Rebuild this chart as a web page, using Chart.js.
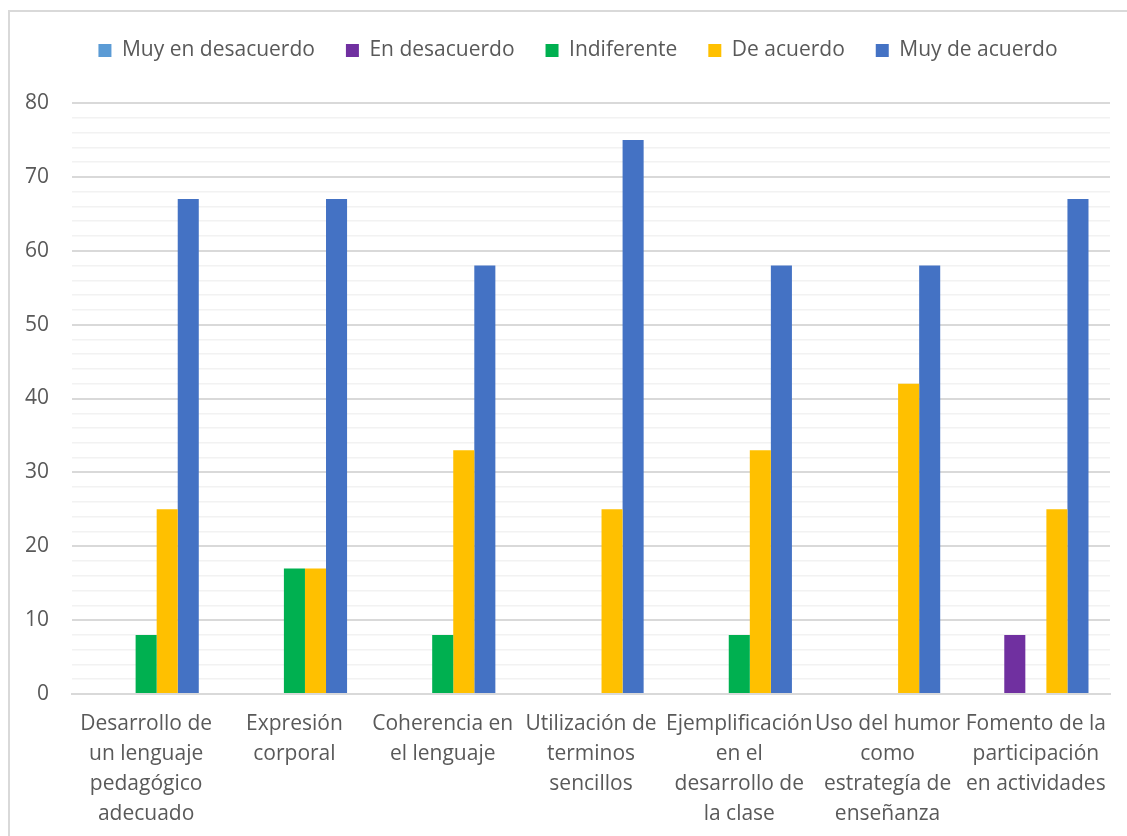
<!DOCTYPE html>
<html>
<head>
<meta charset="utf-8">
<script src="https://cdn.jsdelivr.net/npm/chart.js@4.4.1/dist/chart.umd.min.js"></script>
<style>
  html, body { margin: 0; padding: 0; background: #fff; overflow: hidden; }
  #box {
    position: absolute; left: 8px; top: 10px;
    width: 1140px; height: 852px;
    border: 2px solid #d9d9d9; background: #fff;
  }
</style>
</head>
<body>
<div id="box"><canvas id="myChart" width="1130" height="832"></canvas></div>
<script>
'use strict';
let categories = [
  ['Desarrollo de', 'un lenguaje', 'pedagógico', 'adecuado'],
  ['Expresión', 'corporal'],
  ['Coherencia en', 'el lenguaje'],
  ['Utilización de', 'terminos', 'sencillos'],
  ['Ejemplificación', 'en el', 'desarrollo de', 'la clase'],
  ['Uso del humor', 'como', 'estrategía de', 'enseñanza'],
  ['Fomento de la', 'participación', 'en actividades'],
];

let muyEnDesacuerdo = [0, 0, 0, 0, 0, 0, 0];
let enDesacuerdo = [0, 0, 0, 0, 0, 0, 8];
let indiferente = [8, 17, 8, 0, 8, 0, 0];
let deAcuerdo = [25, 17, 33, 25, 33, 42, 25];
let muyDeAcuerdo = [67, 67, 58, 75, 58, 58, 67];

let yTicks = [0, 10, 20, 30, 40, 50, 60, 70, 80];

const textColor = '#595959';
const fontFamily = '"Open Sans", "Noto Sans", sans-serif';

function serie(label, data, color) {
  return {
    label: label,
    data: data,
    backgroundColor: color,
    borderWidth: 0,
    barPercentage: 1,
    categoryPercentage: 0.71,
  };
}

// move the legend row up into the top margin, slightly right of center
const legendShift = {
  id: 'legendShift',
  afterLayout(chart) {
    let lg = chart.legend;
    if (lg) {
      lg.left += 12;
      lg.right += 12;
      lg.top -= 32;
      lg.bottom -= 32;
    }
  }
};

var ctx = document.getElementById('myChart').getContext('2d');
var myChart = new Chart(ctx, {
  type: 'bar',
  data: {
    labels: categories,
    datasets: [
      serie('Muy en desacuerdo', muyEnDesacuerdo, '#5b9bd5'),
      serie('En desacuerdo', enDesacuerdo, '#7030a0'),
      serie('Indiferente', indiferente, '#00b050'),
      serie('De acuerdo', deAcuerdo, '#ffc000'),
      serie('Muy de acuerdo', muyDeAcuerdo, '#4472c4'),
    ]
  },
  plugins: [legendShift],
  options: {
    responsive: false,
    animation: false,
    layout: { padding: { left: 12, right: 30, top: 29, bottom: 0 } },
    plugins: {
      tooltip: { enabled: false },
      legend: {
        position: 'top',
        labels: {
          color: textColor,
          font: { family: fontFamily, size: 21 },
          boxWidth: 13,
          boxHeight: 13,
          padding: 31,
        }
      }
    },
    scales: {
      x: {
        grid: { display: false, drawTicks: false },
        border: { display: true, color: '#d9d9d9', width: 2 },
        ticks: {
          color: textColor,
          font: { family: fontFamily, size: 21, lineHeight: 30 / 21 },
          padding: 15,
          autoSkip: false,
          maxRotation: 0,
          minRotation: 0,
        }
      },
      y: {
        min: 0,
        max: yTicks[yTicks.length - 1],
        afterFit: function (scale) { scale.width = 50; },
        border: { display: false },
        grid: {
          drawTicks: false,
          color: function (c) { return c.tick && c.tick.value % 10 === 0 ? '#d9d9d9' : '#f2f2f2'; },
          lineWidth: function (c) { return c.tick && c.tick.value % 10 === 0 ? 2 : 1.5; },
        },
        ticks: {
          stepSize: 2,
          autoSkip: false,
          padding: 23,
          color: textColor,
          font: { family: fontFamily, size: 21 },
          callback: function (v) { return yTicks.indexOf(v) >= 0 ? v : ''; },
        }
      }
    }
  }
});
</script>
</body>
</html>
